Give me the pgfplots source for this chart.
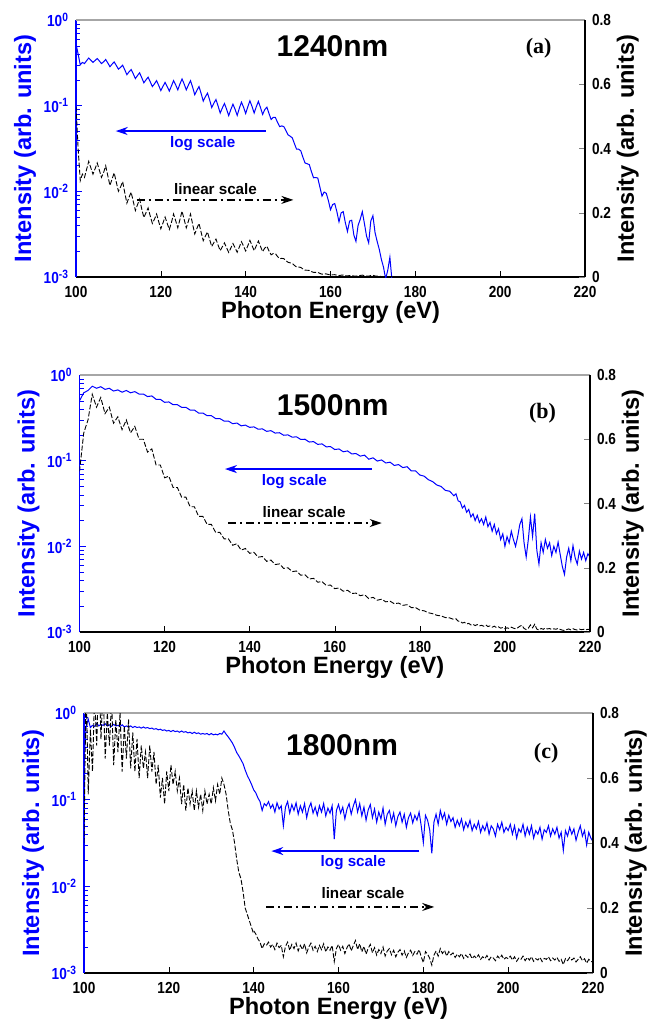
\documentclass[border=0pt]{standalone}
\usepackage{fontspec}
\setmainfont{Liberation Sans}
\newfontfamily\serifb{Liberation Serif}
\newfontfamily\narrowsans{Liberation Sans}[FakeStretch=0.85]
\usepackage{pgfplots}
\usepackage{pgfplotstable}
\pgfplotsset{compat=1.18}
\usetikzlibrary{arrows.meta}
\definecolor{hblue}{RGB}{0,0,255}

% 1240 nm spectrum (same data drawn on log and linear axes)
\pgfplotstableread[row sep=\\]{
x y\\
100 0.53\\ 100.5 0.40\\ 101 0.30\\ 101.5 0.32\\ 102 0.310\\ 102.5 0.335\\ 103 0.360\\ 103.5 0.34\\
104 0.320\\ 104.5 0.337\\ 105 0.355\\ 105.5 0.333\\ 106 0.310\\ 106.5 0.325\\ 107 0.346\\ 107.5 0.315\\
108 0.285\\ 108.5 0.305\\ 109 0.324\\ 109.5 0.295\\ 110 0.267\\ 110.5 0.28\\ 111 0.297\\ 111.5 0.262\\
112 0.230\\ 112.5 0.248\\ 113 0.264\\ 113.5 0.235\\ 114 0.207\\ 114.5 0.225\\ 115 0.242\\ 115.5 0.212\\
116 0.185\\ 116.5 0.20\\ 117 0.215\\ 117.5 0.19\\ 118 0.167\\ 118.5 0.18\\ 119 0.196\\ 119.5 0.172\\
120 0.150\\ 120.5 0.168\\ 121 0.187\\ 121.5 0.167\\ 122 0.148\\ 122.5 0.170\\ 123 0.196\\ 123.5 0.175\\
124 0.153\\ 124.5 0.179\\ 125 0.205\\ 125.5 0.179\\ 126 0.153\\ 126.5 0.174\\ 127 0.196\\ 127.5 0.164\\
128 0.134\\ 128.5 0.151\\ 129 0.167\\ 129.5 0.139\\ 130 0.113\\ 130.5 0.127\\ 131 0.140\\ 131.5 0.117\\
132 0.095\\ 132.5 0.107\\ 133 0.118\\ 133.5 0.099\\ 134 0.082\\ 134.5 0.094\\ 135 0.106\\ 135.5 0.091\\
136 0.0765\\ 136.5 0.09\\ 137 0.104\\ 137.5 0.091\\ 138 0.077\\ 138.5 0.093\\ 139 0.110\\ 139.5 0.096\\
140 0.081\\ 140.5 0.097\\ 141 0.114\\ 141.5 0.098\\ 142 0.082\\ 142.5 0.097\\ 143 0.112\\ 143.5 0.095\\
144 0.079\\ 144.5 0.09\\ 145 0.096\\ 145.5 0.081\\ 146 0.069\\ 146.5 0.073\\ 147 0.073\\ 147.5 0.064\\
148 0.057\\ 148.5 0.058\\ 149 0.057\\ 149.5 0.051\\ 150 0.0456\\ 150.5 0.044\\ 151 0.042\\ 151.5 0.036\\
152 0.031\\ 152.5 0.031\\ 153 0.0297\\ 153.5 0.025\\ 154 0.0214\\ 154.5 0.021\\ 155 0.0205\\ 155.5 0.017\\
156 0.0144\\ 156.5 0.0145\\ 157 0.0143\\ 157.5 0.0112\\ 158 0.0088\\ 158.5 0.0098\\ 159 0.0095\\ 159.5 0.0078\\
160 0.0061\\ 160.5 0.0070\\ 161 0.0072\\ 161.5 0.0058\\ 162 0.0044\\ 162.5 0.0056\\ 163 0.0058\\ 163.5 0.0043\\
164 0.0034\\ 164.5 0.0045\\ 165 0.0046\\ 165.5 0.0031\\ 166 0.0026\\ 166.5 0.0040\\ 167 0.0047\\ 167.5 0.0058\\
168 0.0042\\ 168.5 0.0030\\ 169 0.0025\\ 169.5 0.0045\\ 170 0.0052\\ 170.5 0.0033\\ 171 0.0026\\ 171.5 0.0021\\
172 0.0016\\ 172.5 0.0013\\ 173 0.00095\\ 173.5 0.0012\\ 174 0.0017\\ 174.5 0.0009\\
}\tabA

% 1500 nm spectrum
\pgfplotstableread[row sep=\\]{
x y\\
100 0.50\\ 101 0.62\\ 102 0.66\\ 103 0.74\\ 104 0.70\\ 105 0.73\\ 106 0.68\\ 107 0.70\\ 108 0.65\\ 109 0.67\\
110 0.63\\ 111 0.66\\ 112 0.62\\ 113 0.64\\ 114 0.60\\ 115 0.60\\ 116 0.56\\ 117 0.57\\ 118 0.52\\ 119 0.52\\
120 0.48\\ 121 0.485\\ 122 0.45\\ 123 0.45\\ 124 0.42\\ 125 0.42\\ 126 0.39\\ 127 0.39\\ 128 0.36\\ 129 0.36\\
130 0.335\\ 131 0.335\\ 132 0.31\\ 133 0.31\\ 134 0.29\\ 135 0.29\\ 136 0.27\\ 137 0.275\\ 138 0.255\\ 139 0.26\\
140 0.245\\ 141 0.248\\ 142 0.233\\ 143 0.235\\ 144 0.22\\ 145 0.224\\ 146 0.21\\ 147 0.212\\ 148 0.198\\ 149 0.20\\
150 0.188\\ 151 0.19\\ 152 0.177\\ 153 0.178\\ 154 0.165\\ 155 0.167\\ 156 0.155\\ 157 0.157\\ 158 0.145\\ 159 0.146\\
160 0.135\\ 161 0.137\\ 162 0.127\\ 163 0.13\\ 164 0.12\\ 165 0.121\\ 166 0.113\\ 167 0.116\\ 168 0.104\\ 169 0.108\\
170 0.099\\ 171 0.102\\ 172 0.094\\ 173 0.096\\ 174 0.088\\ 175 0.09\\ 176 0.083\\ 177 0.085\\ 178 0.076\\ 179 0.076\\
180 0.068\\ 181 0.066\\ 182 0.060\\ 183 0.057\\ 184 0.052\\ 185 0.050\\ 186 0.045\\ 187 0.044\\ 188 0.039\\
188.5 0.041\\ 189 0.034\\ 189.5 0.033\\ 190 0.028\\ 190.5 0.030\\ 191 0.025\\ 191.5 0.027\\ 192 0.022\\
192.5 0.024\\ 193 0.020\\ 193.5 0.023\\ 194 0.019\\ 194.5 0.021\\ 195 0.018\\ 195.5 0.022\\ 196 0.017\\
196.5 0.019\\ 197 0.015\\ 197.5 0.018\\ 198 0.014\\ 198.5 0.016\\ 199 0.012\\ 199.5 0.014\\ 200 0.010\\
200.5 0.013\\ 201 0.011\\ 201.5 0.015\\ 202 0.012\\ 202.5 0.010\\ 203 0.013\\ 203.5 0.018\\ 204 0.021\\
204.5 0.011\\ 205 0.0075\\ 205.5 0.012\\ 206 0.022\\ 206.5 0.013\\ 207 0.024\\ 207.5 0.009\\ 208 0.0062\\
208.5 0.011\\ 209 0.0085\\ 209.5 0.012\\ 210 0.0095\\ 210.5 0.011\\ 211 0.0078\\ 211.5 0.010\\ 212 0.0085\\
212.5 0.0112\\ 213 0.0080\\ 213.5 0.0058\\ 214 0.0047\\ 214.5 0.0075\\ 215 0.0095\\ 215.5 0.0068\\ 216 0.0102\\
216.5 0.0074\\ 217 0.0062\\ 217.5 0.0088\\ 218 0.0071\\ 218.5 0.0085\\ 219 0.0068\\ 219.5 0.0082\\ 220 0.0075\\
}\tabB

% 1800 nm spectrum (log trace)
\pgfplotstableread[row sep=\\]{
x y\\
100 0.30\\ 100.5 0.70\\ 101 0.85\\ 101.5 0.68\\ 102 0.72\\ 102.5 0.70\\ 103 0.76\\ 103.5 0.71\\
104 0.74\\ 104.5 0.72\\ 105 0.75\\ 105.5 0.71\\ 106 0.73\\ 106.5 0.70\\ 107 0.74\\ 107.5 0.71\\
108 0.72\\ 108.5 0.70\\ 109 0.73\\ 109.5 0.69\\ 110 0.71\\ 110.5 0.69\\ 111 0.71\\ 111.5 0.68\\
112 0.70\\ 112.5 0.68\\ 113 0.69\\ 113.5 0.67\\ 114 0.69\\ 114.5 0.67\\ 115 0.68\\ 115.5 0.66\\
116 0.67\\ 116.5 0.65\\ 117 0.66\\ 117.5 0.64\\ 118 0.65\\ 118.5 0.63\\ 119 0.64\\ 119.5 0.62\\
120 0.63\\ 120.5 0.61\\ 121 0.63\\ 121.5 0.61\\ 122 0.62\\ 122.5 0.60\\ 123 0.62\\ 123.5 0.60\\
124 0.61\\ 124.5 0.59\\ 125 0.60\\ 125.5 0.58\\ 126 0.60\\ 126.5 0.58\\ 127 0.59\\ 127.5 0.57\\
128 0.58\\ 128.5 0.57\\ 129 0.58\\ 129.5 0.56\\ 130 0.58\\ 130.5 0.56\\ 131 0.57\\ 131.5 0.56\\
132 0.58\\ 132.5 0.57\\ 133 0.62\\ 133.5 0.57\\ 134 0.53\\ 134.5 0.49\\ 135 0.45\\ 135.5 0.40\\
136 0.35\\ 136.5 0.32\\ 137 0.29\\ 137.5 0.26\\ 138 0.22\\ 138.5 0.19\\ 139 0.17\\ 139.5 0.15\\
140 0.13\\ 140.5 0.12\\ 141 0.105\\ 141.5 0.095\\ 142 0.075\\ 142.5 0.090\\ 143 0.085\\ 143.5 0.095\\
144 0.080\\ 144.5 0.088\\ 145 0.072\\ 145.5 0.092\\ 146 0.078\\ 146.5 0.085\\ 147 0.050\\ 147.5 0.082\\
148 0.095\\ 148.5 0.070\\ 149 0.088\\ 149.5 0.075\\ 150 0.092\\ 150.5 0.068\\ 151 0.085\\ 151.5 0.072\\
152 0.090\\ 152.5 0.062\\ 153 0.080\\ 153.5 0.092\\ 154 0.070\\ 154.5 0.082\\ 155 0.066\\ 155.5 0.085\\
156 0.072\\ 156.5 0.090\\ 157 0.065\\ 157.5 0.080\\ 158 0.070\\ 158.5 0.085\\ 159 0.035\\ 159.5 0.075\\
160 0.088\\ 160.5 0.070\\ 161 0.082\\ 161.5 0.060\\ 162 0.078\\ 162.5 0.090\\ 163 0.068\\ 163.5 0.085\\
164 0.100\\ 164.5 0.072\\ 165 0.090\\ 165.5 0.065\\ 166 0.082\\ 166.5 0.058\\ 167 0.076\\ 167.5 0.088\\
168 0.062\\ 168.5 0.078\\ 169 0.055\\ 169.5 0.072\\ 170 0.060\\ 170.5 0.080\\ 171 0.052\\ 171.5 0.068\\
172 0.075\\ 172.5 0.056\\ 173 0.070\\ 173.5 0.050\\ 174 0.064\\ 174.5 0.072\\ 175 0.055\\ 175.5 0.068\\
176 0.048\\ 176.5 0.062\\ 177 0.070\\ 177.5 0.054\\ 178 0.066\\ 178.5 0.058\\ 179 0.072\\ 179.5 0.050\\
180 0.032\\ 180.5 0.066\\ 181 0.058\\ 181.5 0.045\\ 182 0.024\\ 182.5 0.055\\ 183 0.068\\ 183.5 0.052\\
184 0.075\\ 184.5 0.060\\ 185 0.070\\ 185.5 0.052\\ 186 0.066\\ 186.5 0.056\\ 187 0.062\\ 187.5 0.048\\
188 0.058\\ 188.5 0.050\\ 189 0.060\\ 189.5 0.045\\ 190 0.055\\ 190.5 0.048\\ 191 0.058\\ 191.5 0.044\\
192 0.052\\ 192.5 0.046\\ 193 0.056\\ 193.5 0.042\\ 194 0.050\\ 194.5 0.044\\ 195 0.054\\ 195.5 0.040\\
196 0.050\\ 196.5 0.046\\ 197 0.038\\ 197.5 0.052\\ 198 0.045\\ 198.5 0.055\\ 199 0.042\\ 199.5 0.048\\
200 0.044\\ 200.5 0.052\\ 201 0.040\\ 201.5 0.050\\ 202 0.036\\ 202.5 0.046\\ 203 0.042\\ 203.5 0.052\\
204 0.038\\ 204.5 0.048\\ 205 0.040\\ 205.5 0.050\\ 206 0.036\\ 206.5 0.044\\ 207 0.040\\ 207.5 0.048\\
208 0.035\\ 208.5 0.045\\ 209 0.042\\ 209.5 0.050\\ 210 0.038\\ 210.5 0.046\\ 211 0.040\\ 211.5 0.048\\
212 0.036\\ 212.5 0.042\\ 213 0.026\\ 213.5 0.044\\ 214 0.038\\ 214.5 0.048\\ 215 0.040\\ 215.5 0.046\\
216 0.034\\ 216.5 0.042\\ 217 0.050\\ 217.5 0.038\\ 218 0.044\\ 218.5 0.030\\ 219 0.042\\ 219.5 0.036\\
220 0.033\\
}\tabC

% 1800 nm linear trace below 140 eV (noisier)
\pgfplotstableread[row sep=\\]{
x y\\
100 0.40\\ 100.5 0.90\\ 101 0.55\\ 101.5 0.75\\ 102 0.62\\ 102.5 0.86\\ 103 0.70\\ 103.5 0.95\\
104 0.72\\ 104.5 0.88\\ 105 0.66\\ 105.5 0.80\\ 106 0.70\\ 106.5 0.84\\ 107 0.64\\ 107.5 0.78\\
108 0.68\\ 108.5 0.80\\ 109 0.62\\ 109.5 0.76\\ 110 0.66\\ 110.5 0.78\\ 111 0.63\\ 111.5 0.74\\
112 0.62\\ 112.5 0.72\\ 113 0.60\\ 113.5 0.70\\ 114 0.63\\ 114.5 0.68\\ 115 0.60\\ 115.5 0.70\\
116 0.62\\ 116.5 0.68\\ 117 0.58\\ 117.5 0.64\\ 118 0.54\\ 118.5 0.60\\ 119 0.52\\ 119.5 0.62\\
120 0.56\\ 120.5 0.64\\ 121 0.58\\ 121.5 0.62\\ 122 0.56\\ 122.5 0.60\\ 123 0.52\\ 123.5 0.58\\
124 0.50\\ 124.5 0.57\\ 125 0.52\\ 125.5 0.56\\ 126 0.50\\ 126.5 0.56\\ 127 0.51\\ 127.5 0.55\\
128 0.50\\ 128.5 0.56\\ 129 0.52\\ 129.5 0.55\\ 130 0.52\\ 130.5 0.57\\ 131 0.53\\ 131.5 0.58\\
132 0.55\\ 132.5 0.60\\ 133 0.58\\ 133.5 0.55\\ 134 0.50\\ 134.5 0.46\\ 135 0.44\\ 135.5 0.40\\
136 0.35\\ 136.5 0.31\\ 137 0.29\\ 137.5 0.25\\ 138 0.20\\ 138.5 0.18\\ 139 0.16\\ 139.5 0.14\\
140 0.12\\
}\tabCk

\tikzset{
  ann/.style={font=\bfseries\fontsize{7.6}{9}\selectfont},
  ttl/.style={font=\bfseries\fontsize{15}{17}\selectfont},
  plab/.style={font=\serifb\bfseries\fontsize{11}{13}\selectfont},
  bluearr/.style={hblue, line width=0.8pt, -{Stealth[length=6pt,width=4pt]}},
  blkarr/.style={black, line width=0.6pt, dash pattern=on 4pt off 2pt on 1pt off 2pt, -{Stealth[length=6pt,width=4pt]}},
}

\pgfplotsset{
  leftax/.style={
    scale only axis, anchor=south west,
    xmin=100, xmax=220, ymin=1e-3, ymax=1,
    axis x line*=bottom, axis y line*=left,
    x axis line style={black, line width=0.6pt},
    y axis line style={hblue, line width=0.8pt},
    xtick={100,120,140,160,180,200,220},
    xticklabels={100,120,140,160,180,200,220},
    ytick={0.001,0.01,0.1,1},
    yticklabels={10\textsuperscript{-3},10\textsuperscript{-2},10\textsuperscript{-1},10\textsuperscript{0}},
    minor ytick={0.002,0.003,0.004,0.005,0.006,0.007,0.008,0.009,
                 0.02,0.03,0.04,0.05,0.06,0.07,0.08,0.09,
                 0.2,0.3,0.4,0.5,0.6,0.7,0.8,0.9},
    tick align=inside, major tick length=3pt, minor tick length=2pt,
    x tick style={black}, y tick style={hblue}, minor y tick style={hblue},
    yticklabel style={text=hblue},
    xticklabel style={yshift=-1pt},
    tick label style={font=\narrowsans\bfseries\fontsize{8}{9}\selectfont},
    label style={font=\bfseries\fontsize{11.8}{13}\selectfont},
    xlabel={Photon Energy (eV)}, ylabel={Intensity (arb. units)},
    xlabel style={at={(axis description cs:0.5,-0.136)}, anchor=center},
    ylabel style={at={(axis description cs:-0.10,0.5)}, anchor=center, text=hblue},
  },
  rightax/.style={
    scale only axis, anchor=south west,
    xmin=100, xmax=220, ymin=0, ymax=0.8,
    axis x line*=top, axis y line*=right,
    x axis line style={gray!70, line width=0.6pt},
    y axis line style={black, line width=0.6pt},
    xtick=\empty,
    ytick={0,0.2,0.4,0.6,0.8}, yticklabels={0,0.2,0.4,0.6,0.8},
    tick align=inside, major tick length=3pt,
    tick label style={font=\narrowsans\bfseries\fontsize{8}{9}\selectfont},
    label style={font=\bfseries\fontsize{11.8}{13}\selectfont},
    ylabel={Intensity (arb. units)},
    ylabel style={at={(axis description cs:1.084,0.5)}, anchor=center},
  },
  logline/.style={hblue, line width=0.5pt, no marks},
  linline/.style={black, line width=0.45pt, dash pattern=on 2.5pt off 1pt, no marks},
}

\begin{document}
\begin{tikzpicture}
\useasboundingbox (0,0) rectangle (326.5pt,-510.5pt);

% ---------- (a) 1240 nm ----------
\begin{axis}[ymode=log, leftax, at={(38pt,-138.5pt)}, width=254.5pt, height=128.5pt]
\addplot[logline] table[x=x,y=y] {\tabA};
\end{axis}
\begin{axis}[rightax, at={(38pt,-138.5pt)}, width=254.5pt, height=128.5pt]
\addplot[linline] table[x=x,y=y] {\tabA};
\node[ttl] at (rel axis cs:0.504,0.90) {1240nm};
\node[plab] at (rel axis cs:0.909,0.891) {(a)};
\draw[bluearr] (rel axis cs:0.373,0.568) -- (rel axis cs:0.078,0.568);
\node[ann, text=hblue] at (rel axis cs:0.249,0.521) {log scale};
\node[ann] at (rel axis cs:0.274,0.342) {linear scale};
\draw[blkarr] (rel axis cs:0.119,0.30) -- (rel axis cs:0.427,0.30);
\end{axis}

% ---------- (b) 1500 nm ----------
\begin{axis}[ymode=log, leftax, at={(39.75pt,-316pt)}, width=255.25pt, height=128.5pt]
\addplot[logline] table[x=x,y=y] {\tabB};
\end{axis}
\begin{axis}[rightax, at={(39.75pt,-316pt)}, width=255.25pt, height=128.5pt]
\addplot[linline] table[x=x,y=y] {\tabB};
\node[ttl] at (rel axis cs:0.496,0.883) {1500nm};
\node[plab] at (rel axis cs:0.907,0.85) {(b)};
\draw[bluearr] (rel axis cs:0.572,0.634) -- (rel axis cs:0.285,0.634);
\node[ann, text=hblue] at (rel axis cs:0.421,0.584) {log scale};
\node[ann] at (rel axis cs:0.44,0.467) {linear scale};
\draw[blkarr] (rel axis cs:0.291,0.424) -- (rel axis cs:0.592,0.424);
\end{axis}

% ---------- (c) 1800 nm ----------
\begin{axis}[ymode=log, leftax, at={(42pt,-486.5pt)}, width=254.5pt, height=130pt]
\addplot[logline] table[x=x,y=y] {\tabC};
\end{axis}
\begin{axis}[rightax, at={(42pt,-486.5pt)}, width=254.5pt, height=130pt]
\addplot[linline] table[x=x,y=y] {\tabCk};
\addplot[linline, restrict x to domain=140:220] table[x=x,y=y] {\tabC};
\node[ttl] at (rel axis cs:0.507,0.877) {1800nm};
\node[plab] at (rel axis cs:0.908,0.844) {(c)};
\draw[bluearr] (rel axis cs:0.659,0.469) -- (rel axis cs:0.368,0.469);
\node[ann, text=hblue] at (rel axis cs:0.529,0.425) {log scale};
\node[ann] at (rel axis cs:0.548,0.306) {linear scale};
\draw[blkarr] (rel axis cs:0.358,0.254) -- (rel axis cs:0.688,0.254);
\end{axis}
\end{tikzpicture}
\end{document}
